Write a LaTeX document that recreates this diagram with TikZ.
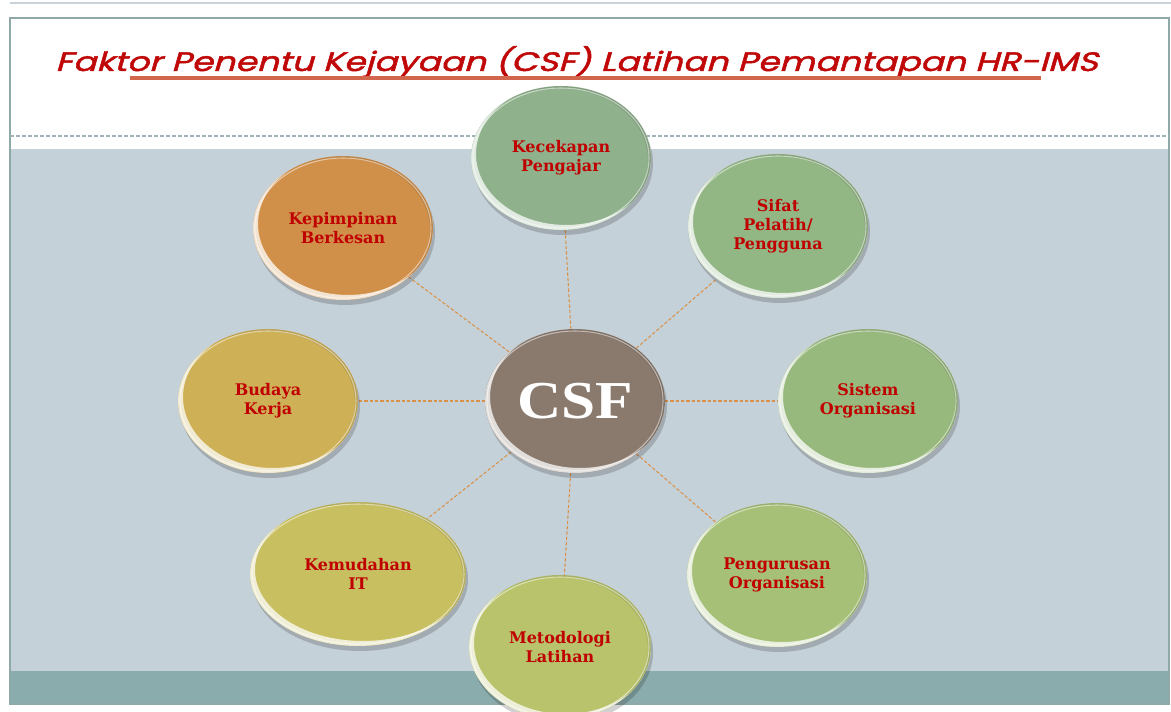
\documentclass[tikz,border=0pt]{standalone}
\usepackage{fontspec}
\usepackage{graphicx}
\usetikzlibrary{shapes.geometric}
\newfontfamily\titlefont[FakeSlant=0.22, FakeBold=1.6]{Poppins}
\newfontfamily\beadfont{DejaVu Serif}
\newfontfamily\csffont[FakeStretch=1.15]{Liberation Serif}

\definecolor{panel}{HTML}{C5D1D8}
\definecolor{band}{HTML}{8AACAD}
\definecolor{frame}{HTML}{8FA8A8}
\definecolor{sepline}{HTML}{9EB4B8}
\definecolor{topline}{HTML}{C8D2D8}
\definecolor{titlered}{HTML}{C00808}
\definecolor{ulinecol}{HTML}{D2664C}
\definecolor{labelred}{HTML}{C00000}
\definecolor{linkcol}{HTML}{D9914A}
\definecolor{cKec}{HTML}{8FB18C}
\definecolor{cSif}{HTML}{93B685}
\definecolor{cSis}{HTML}{98B97D}
\definecolor{cPen}{HTML}{A6C077}
\definecolor{cMet}{HTML}{B8C36B}
\definecolor{cKem}{HTML}{C8BF61}
\definecolor{cBud}{HTML}{CEB056}
\definecolor{cKep}{HTML}{D19049}
\definecolor{cCsf}{HTML}{8A7A6E}

\pgfdeclarelayer{back}
\pgfdeclarelayer{lines}
\pgfsetlayers{back,lines,main}

\tikzset{
  bead/.style={ellipse, draw=none, inner sep=0pt, outer sep=0pt,
    minimum height=108pt, align=center, text=labelred,
    font=\beadfont\bfseries\fontsize{12pt}{14.25pt}\selectfont},
  beadshadow/.style={fill=black, opacity=0.18},
  link/.style={draw=linkcol, line width=0.8pt, dash pattern=on 2.5pt off 1.5pt},
}

% one glossy bead: name, x, y, x radius, fill colour, label
\newcommand\bead[6]{%
  \fill[beadshadow] (#2+2,#3+5) ellipse [x radius=#4, y radius=72];
  \node[bead, fill=#5, minimum width=#4*1.5pt] (#1) at (#2,#3) {#6};
  \begin{scope}
    \clip (#2,#3) ellipse [x radius=#4, y radius=72];
    \fill[white, opacity=0.75, even odd rule]
      (#2,#3) ellipse [x radius=#4, y radius=72]
      (#2+5,#3-4) ellipse [x radius=#4, y radius=71];
    \fill[black, opacity=0.10, even odd rule]
      (#2,#3) ellipse [x radius=#4, y radius=72]
      (#2-3,#3+2) ellipse [x radius=#4, y radius=72];
    \draw[white, opacity=0.5, line width=0.8pt]
      (#2,#3) ellipse [x radius=#4-2, y radius=70];
  \end{scope}
}

\begin{document}
\begin{tikzpicture}[x=0.75pt, y=-0.75pt]
\clip (0,0) rectangle (1171,712);

\begin{pgfonlayer}{back}
  \fill[white] (0,0) rectangle (1171,712);
  \draw[topline, line width=0.8pt] (10,3) -- (1171,3);
  \fill[panel] (10,149) rectangle (1169,671);
  \fill[band] (10,671) rectangle (1169,704);
  \draw[frame, line width=1pt] (10,18) rectangle (1169,704);
  \draw[sepline, line width=0.8pt, dash pattern=on 3pt off 1.5pt] (10,136) -- (1169,136);
  % title with its underline
  \node[anchor=base west, inner sep=0pt, text=titlered] (title) at (55,71)
    {\resizebox{782pt}{\height}{\titlefont\fontsize{20pt}{24pt}\selectfont Faktor Penentu Kejayaan (CSF) Latihan Pemantapan HR-IMS}};
  \draw[ulinecol, line width=2.4pt] (130,78) -- (1041,78);
\end{pgfonlayer}

% the nine beads
\bead{kec}{561}{158}{90}{cKec}{Kecekapan\\Pengajar}
\bead{sif}{778}{226}{90}{cSif}{Sifat\\Pelatih/\\Pengguna}
\bead{sis}{868}{401}{90}{cSis}{Sistem\\Organisasi}
\bead{pen}{777}{575}{90}{cPen}{Pengurusan\\Organisasi}
\bead{met}{560}{647}{91}{cMet}{Metodologi\\Latihan}
\bead{kem}{358}{574}{108}{cKem}{Kemudahan\\IT}
\bead{bud}{268}{401}{90}{cBud}{Budaya\\Kerja}
\bead{kep}{343}{228}{90}{cKep}{Kepimpinan\\Berkesan}
\bead{csf}{575}{401}{90}{cCsf}{\csffont\bfseries\color{white}\fontsize{40pt}{44pt}\selectfont CSF}

% spokes from the hub
\begin{pgfonlayer}{lines}
  \foreach \n in {kec,sif,sis,pen,met,kem,bud,kep}
    \draw[link] (csf) -- (\n);
\end{pgfonlayer}
\end{tikzpicture}
\end{document}
